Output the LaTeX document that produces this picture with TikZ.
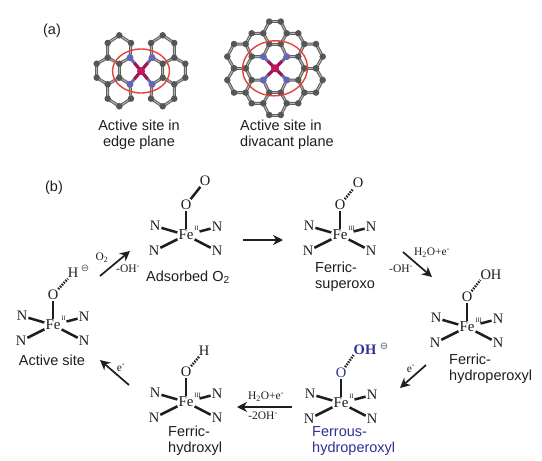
\documentclass[tikz,border=0pt]{standalone}
\usepackage{fontspec}
\setmainfont{Liberation Serif}
\newfontfamily\labfont{Liberation Sans}
\newfontfamily\symfont{DejaVu Sans}
\usetikzlibrary{arrows.meta}
\definecolor{ink}{HTML}{1E1E1E}
\definecolor{navy}{HTML}{2E3192}
\definecolor{bondgrey}{HTML}{5F5F5F}
\definecolor{nitro}{HTML}{6666B4}
\definecolor{ironred}{HTML}{C2185B}
\definecolor{ringred}{HTML}{E8403A}
\tikzset{
  atomtext/.style={font=\fontsize{14.5}{14.5}\selectfont,text=ink,inner sep=0pt},
  fetext/.style={font=\fontsize{15}{15}\selectfont,text=ink,inner sep=0pt},
  oxtext/.style={font=\fontsize{6.5}{6.5}\selectfont,text=ink,inner sep=0pt,anchor=west},
  bond/.style={line width=2.5pt,draw=ink,shorten <=1pt,shorten >=1pt},
  dotbond/.style={line width=2.5pt,draw=ink,dash pattern=on 1.5pt off 1.2pt,shorten <=1pt,shorten >=1pt},
  rxn/.style={line width=1.7pt,draw=ink,-{Stealth[length=10pt,width=10pt]}},
  cond/.style={font=\fontsize{11.5}{11.5}\selectfont,text=ink,inner sep=0pt},
  lab/.style={font=\labfont\fontsize{14.5}{16}\selectfont,text=ink,inner sep=0pt,align=left},
  minus/.style={font=\symfont\fontsize{10}{10}\selectfont,text=ink!70,inner sep=0pt},
  cc/.style={line width=3pt,draw=bondgrey},
  ccin/.style={line width=1pt,draw=white!70!black},
  ball/.style={circle,inner sep=0pt,minimum size=6.5pt,fill=bondgrey!90!black,draw=none},
  nball/.style={circle,inner sep=0pt,minimum size=7pt,fill=nitro,draw=none},
  feball/.style={circle,inner sep=0pt,minimum size=8pt,fill=ironred,draw=none},
  ring/.style={draw=ringred,line width=1.4pt},
  febond/.style={line width=3pt,draw=ironred!85!black},
  nbond/.style={line width=3pt,draw=nitro}
}
% #1 name, #2 x, #3 y, #4 oxidation state, #5 O colour
\newcommand{\feunit}[5]{%
  \node[fetext] (#1fe) at (#2,#3) {Fe};
  \node[oxtext] (#1ox) at (#2+8.2,#3-7) {#4};
  \node[atomtext] (#1na) at (#2-31,#3-9) {N};
  \node[atomtext] (#1nb) at (#2+31,#3-8) {N};
  \node[atomtext] (#1nc) at (#2-32,#3+16) {N};
  \node[atomtext] (#1nd) at (#2+31,#3+16) {N};
  \node[atomtext,text=#5] (#1o) at (#2,#3-30) {O};
  \draw[bond] (#1o) -- (#1fe);
  \draw[bond] (#1na) -- (#1fe);
  \draw[bond] (#1nc) -- (#1fe);
  \draw[bond,shorten >=6pt] (#1nb) -- (#1fe);
  \draw[bond] (#1nd) -- (#1fe);
}
\newcommand{\chain}[1]{%
  \draw[cc] #1; \draw[ccin] #1;
}
\newcommand{\supm}{\textsuperscript{-}}
\newcommand{\subt}{\textsubscript{2}}
\begin{document}
\begin{tikzpicture}[x=1pt,y=-1pt]
\useasboundingbox (0,0) rectangle (542,461);
\fill[white] (0,0) rectangle (542,461);

\node[lab] (tagA) at (52,31) {(a)};
\node[lab] (tagB) at (54,188) {(b)};

%%% (a) edge-plane molecule
\begin{scope}[shift={(141,71)}]
  \foreach \s in {-1,1}{
    \begin{scope}[xscale=\s]
      \chain{(-21.7,-35.7) -- (-10,-28) -- (-11,-13.3) (-11,13.3) -- (-10,27.7) -- (-21.7,35.3) -- (-33.3,27.7) -- (-33.3,13.3) -- (-44.3,6.7) -- (-44.3,-7.3) -- (-33.3,-13.3) -- (-33.3,-28) -- (-21.7,-35.7)}
      \chain{(-33.3,-13.3) -- (-21.7,-7.3) -- (-21.7,6.7) -- (-33.3,13.3)}
      \chain{(-21.7,-7.3) -- (-11,-13.3) (-21.7,6.7) -- (-11,13.3)}
      \draw[nbond] (0,0) -- (-11,-13.3);
      \draw[nbond] (0,0) -- (-11,13.3);
      \draw[febond] (0,0) -- (-6.5,-8);
      \draw[febond] (0,0) -- (-6.5,8);
      \foreach \p in {(-21.7,-35.7),(-10,-28),(-33.3,-28),(-33.3,-13.3),(-21.7,-7.3),(-21.7,6.7),(-33.3,13.3),(-44.3,-7.3),(-44.3,6.7),(-33.3,27.7),(-21.7,35.3),(-10,27.7)}
        \node[ball] at \p {};
      \node[nball] at (-11,-13.3) {};
      \node[nball] at (-11,13.3) {};
    \end{scope}
  }
  \node[feball] at (0,0) {};
  \draw[ring] (0,0) ellipse (28.5 and 22);
\end{scope}

%%% (a) divacant-plane molecule
\begin{scope}[shift={(275,68.3)}]
  \foreach \s in {-1,1}{
    \begin{scope}[xscale=\s]
      \foreach \ys in {-1,1}{
        \begin{scope}[yscale=\ys]
          \chain{(-5.8,-46.7) -- (-11.7,-35) -- (-5.8,-24.3) -- (-11.7,-11.7)}
          \chain{(-11.7,-35) -- (-23.3,-35) -- (-29.3,-24.3) -- (-23.3,-11.7) -- (-11.7,-11.7)}
          \chain{(-29.3,-24.3) -- (-41,-24.3) -- (-47.7,-11.7) -- (-41,0)}
          \chain{(-23.3,-11.7) -- (-29.3,0)}
          \chain{(-5.8,-46.7) -- (0,-46.7) (-5.8,-24.3) -- (0,-24.3)}
          \chain{(-41,0) -- (-29.3,0)}
          \draw[nbond] (0,0) -- (-11.7,-11.7);
          \draw[febond] (0,0) -- (-7,-7);
          \foreach \p in {(-5.8,-46.7),(-11.7,-35),(-5.8,-24.3),(-23.3,-35),(-29.3,-24.3),(-23.3,-11.7),(-41,-24.3),(-47.7,-11.7),(-41,0),(-29.3,0)}
            \node[ball] at \p {};
          \node[nball] at (-11.7,-11.7) {};
        \end{scope}
      }
    \end{scope}
  }
  \node[feball] at (0,0) {};
  \draw[ring,rotate=4] (0,0) ellipse (32.5 and 27.5);
\end{scope}

\node[lab,align=center] (capA) at (139,135) {Active site in\\edge plane};
\node[lab,anchor=west] (capB) at (240,135) {Active site in\\divacant plane};

%%% (b) complexes
\feunit{ads}{186}{235}{II}{ink}
\node[atomtext] (adsx) at (205,181) {O};
\draw[bond] (adso) -- (adsx);
\node[lab,anchor=center] (adsl) at (188,277) {Adsorbed O\subt};

\feunit{sup}{340}{235}{III}{ink}
\node[atomtext] (supx) at (358,183) {O};
\draw[dotbond] (supo) -- (supx);
\node[lab,anchor=west] (supl) at (315,277) {Ferric-\\superoxo};

\feunit{hyd}{467}{327}{III}{ink}
\node[atomtext] (hydx) at (491,275) {OH};
\draw[dotbond,shorten >=0pt] (hydo) -- (hydx.south west);
\node[lab,anchor=west] (hydl) at (449,369) {Ferric-\\hydroperoxyl};

\feunit{fer}{341}{403}{II}{navy}
\node[atomtext,text=navy,font=\bfseries\fontsize{14.5}{14.5}\selectfont] (ferx) at (365,350) {OH};
\node[minus] (ferm) at (384,346) {⊖};
\draw[dotbond,shorten >=0pt] (fero) -- (ferx.south west);
\node[lab,anchor=west,text=navy] (ferl) at (312,441) {Ferrous-\\hydroperoxyl};

\feunit{hox}{186}{402}{III}{ink}
\node[atomtext] (hoxx) at (204,351) {H};
\draw[dotbond] (hoxo) -- (hoxx);
\node[lab,anchor=west] (hoxl) at (168,441) {Ferric-\\hydroxyl};

\feunit{act}{53}{325}{II}{ink}
\node[atomtext] (actx) at (73,273) {H};
\node[minus] (actm) at (85,268) {⊖};
\draw[dotbond] (acto) -- (actx);
\node[lab] (actl) at (52,360) {Active site};

%%% reaction arrows
\coordinate (r1a) at (100,276); \coordinate (r1b) at (130,251);
\coordinate (r2a) at (243,240); \coordinate (r2b) at (283,240);
\coordinate (r3a) at (403,252); \coordinate (r3b) at (432,277);
\coordinate (r4a) at (426,365); \coordinate (r4b) at (400,388);
\coordinate (r5a) at (292,407); \coordinate (r5b) at (237,407);
\coordinate (r6a) at (129,385); \coordinate (r6b) at (100,360);
\draw[rxn] (r1a) -- (r1b);
\draw[rxn] (r2a) -- (r2b);
\draw[rxn] (r3a) -- (r3b);
\draw[rxn] (r4a) -- (r4b);
\draw[rxn] (r5a) -- (r5b);
\draw[rxn] (r6a) -- (r6b);

\node[cond] (c1) at (102,258) {O\subt};
\node[cond] (c2) at (128,269) {-OH\supm};
\node[cond] (c3) at (432,253) {H\subt O+e\supm};
\node[cond] (c4) at (401,269) {-OH\supm};
\node[cond] (c5) at (411,369) {e\supm};
\node[cond] (c6) at (266,397) {H\subt O+e\supm};
\node[cond] (c7) at (263,416) {-2OH\supm};
\node[cond] (c8) at (121,368) {e\supm};
\end{tikzpicture}
\end{document}
